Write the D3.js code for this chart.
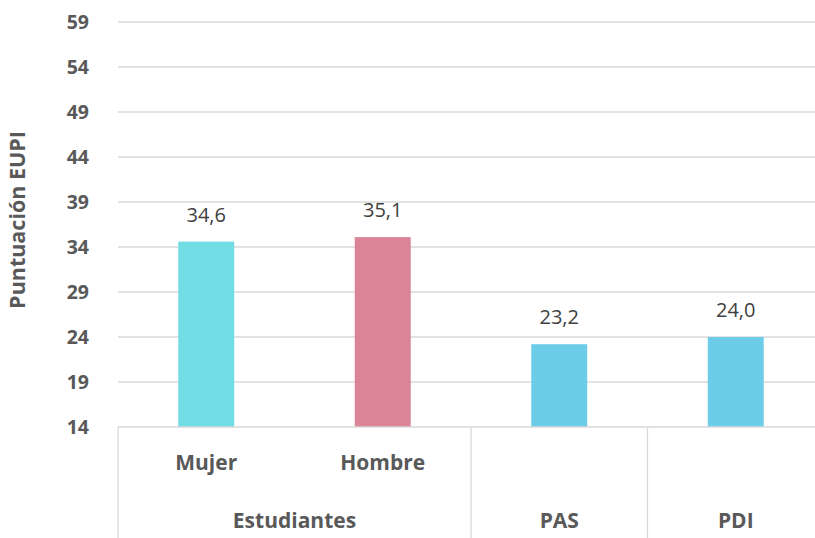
<!DOCTYPE html>
<html>
<head>
<meta charset="utf-8">
<script src="https://cdn.jsdelivr.net/npm/d3@7"></script>
<style>
  html, body { margin: 0; padding: 0; background: #fff; }
  svg { display: block; font-family: "Open Sans", "Noto Sans", sans-serif; }
</style>
</head>
<body>
<svg id="chart" width="815" height="538"></svg>
<script>
// Data
const categories = ["Mujer", "Hombre", "PAS", "PDI"];
const subLabels = ["Mujer", "Hombre", "", ""];
const groupOf = ["Estudiantes", "Estudiantes", "PAS", "PDI"];
const groupNames = ["Estudiantes", "PAS", "PDI"];
const values = [34.6, 35.1, 23.2, 24.0];
const barColors = ["#72DCE5", "#DA8496", "#6DCDE8", "#6DCDE8"];
const yTicks = [14, 19, 24, 29, 34, 39, 44, 49, 54, 59];
const yTitle = "Puntuación EUPI";

const svg = d3.select("#chart");
const plotLeft = 118, plotRight = 824, plotTop = 22, plotBottom = 427;

const x = d3.scaleBand()
  .domain(categories)
  .range([plotLeft, plotRight])
  .paddingInner(0.683)
  .paddingOuter(0.683 / 2);

const y = d3.scaleLinear().domain([14, 59]).range([plotBottom, plotTop]);

const gridColor = "#d9d9d9";
const textColor = "#595959";

// Horizontal gridlines
svg.append("g")
  .selectAll("line")
  .data(yTicks.slice(1))
  .join("line")
  .attr("x1", plotLeft).attr("x2", plotRight)
  .attr("y1", d => y(d)).attr("y2", d => y(d))
  .attr("stroke", gridColor).attr("stroke-width", 1.3);

// Y axis labels
const yAxis = d3.axisLeft(y).tickValues(yTicks).tickSize(0).tickPadding(0);
const gy = svg.append("g").attr("transform", "translate(89,0)").call(yAxis);
gy.select(".domain").remove();
gy.selectAll("text")
  .attr("fill", textColor)
  .style("font-size", "19.5px")
  .style("font-weight", "700")
  .style("font-family", "'Open Sans', sans-serif");

// Axis title
svg.append("text")
  .attr("transform", `translate(25,220) rotate(-90)`)
  .attr("text-anchor", "middle")
  .attr("fill", textColor)
  .style("font-size", "21.5px")
  .style("font-weight", "700")
  .text(yTitle);

// Bars
svg.append("g")
  .selectAll("rect")
  .data(values)
  .join("rect")
  .attr("x", (d, i) => x(categories[i]))
  .attr("width", x.bandwidth())
  .attr("y", d => y(d))
  .attr("height", d => y(14) - y(d))
  .attr("fill", (d, i) => barColors[i]);

// Value labels
const fmt = d => d3.format(".1f")(d).replace(".", ",");
svg.append("g")
  .selectAll("text")
  .data(values)
  .join("text")
  .attr("x", (d, i) => x(categories[i]) + x.bandwidth() / 2)
  .attr("y", d => y(d) - 20)
  .attr("text-anchor", "middle")
  .attr("fill", "#404040")
  .style("font-size", "20px")
  .text(fmt);

// Category axis: baseline and group separators
const step = x.step();
const bandStart = i => plotLeft + i * step;
svg.append("line")
  .attr("x1", plotLeft).attr("x2", plotRight)
  .attr("y1", plotBottom).attr("y2", plotBottom)
  .attr("stroke", gridColor).attr("stroke-width", 1.3);

const groupExtents = groupNames.map(g => {
  const idx = categories.map((c, i) => i).filter(i => groupOf[i] === g);
  return { name: g, x0: bandStart(d3.min(idx)), x1: bandStart(d3.max(idx) + 1) };
});

const seps = [plotLeft].concat(groupExtents.map(e => e.x1));
svg.append("g")
  .selectAll("line")
  .data(seps)
  .join("line")
  .attr("x1", d => d).attr("x2", d => d)
  .attr("y1", plotBottom).attr("y2", 538)
  .attr("stroke", gridColor).attr("stroke-width", 1.3);

// Inner level labels
svg.append("g")
  .selectAll("text")
  .data(subLabels)
  .join("text")
  .attr("x", (d, i) => x(categories[i]) + x.bandwidth() / 2)
  .attr("y", 470)
  .attr("text-anchor", "middle")
  .attr("fill", textColor)
  .style("font-size", "21px")
  .style("font-weight", "700")
  .text(d => d);

// Outer level labels
svg.append("g")
  .selectAll("text")
  .data(groupExtents)
  .join("text")
  .attr("x", d => (d.x0 + d.x1) / 2)
  .attr("y", 528)
  .attr("text-anchor", "middle")
  .attr("fill", textColor)
  .style("font-size", "21px")
  .style("font-weight", "700")
  .text(d => d.name);
</script>
</body>
</html>
